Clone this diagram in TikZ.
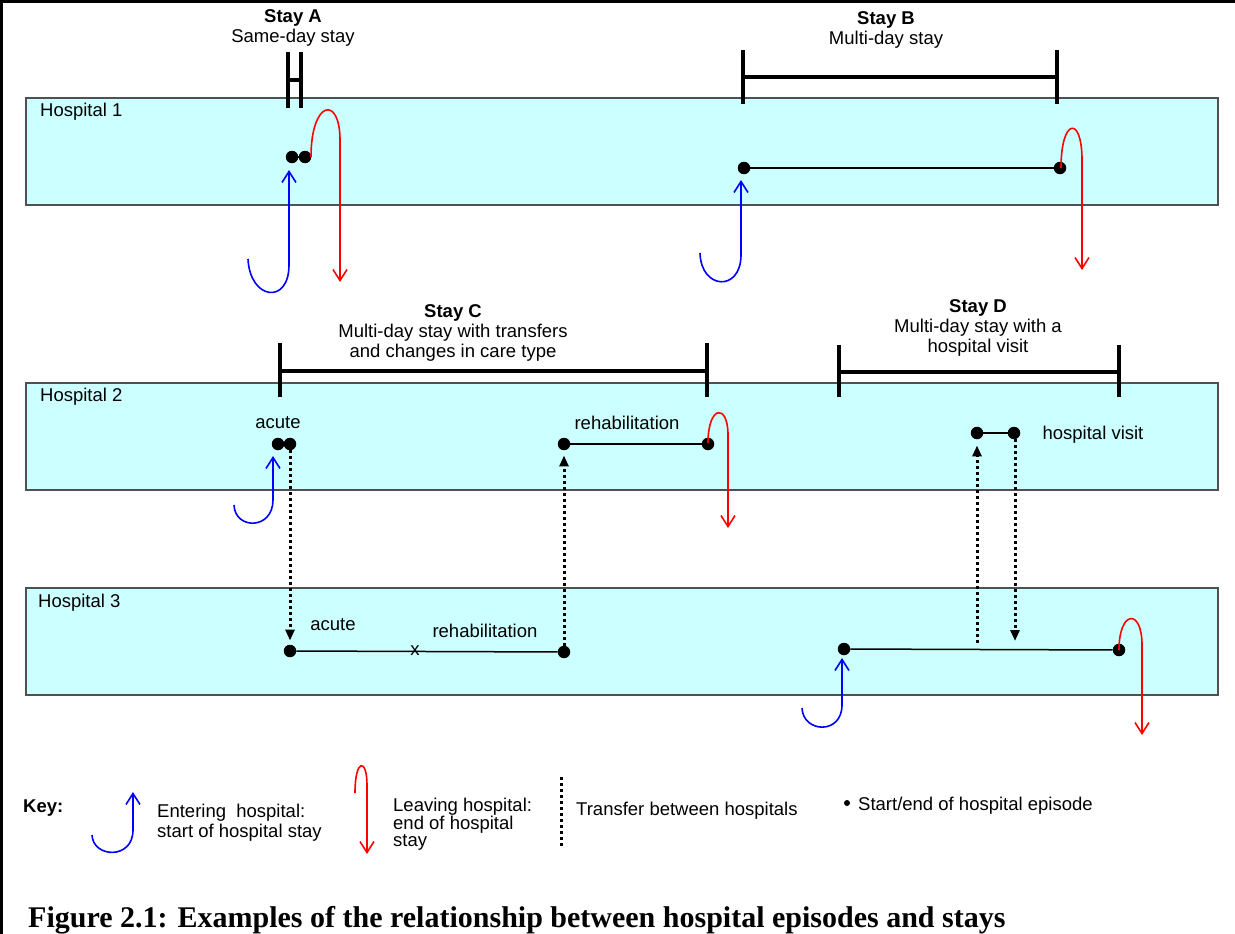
\documentclass[tikz,border=0pt]{standalone}
\usepackage{fontspec}
\setmainfont{Liberation Sans}
\newfontfamily\capfont{Liberation Serif}
\usetikzlibrary{arrows.meta}
\definecolor{hosp}{HTML}{CCFFFF}
\definecolor{hospedge}{HTML}{505050}
\begin{document}
\begin{tikzpicture}[x=1pt,y=-1pt,
  hospbox/.style={fill=hosp, draw=hospedge, line width=1.5pt},
  dot/.style={circle, fill=black, inner sep=0pt, minimum size=12.5pt},
  keydot/.style={circle, fill=black, inner sep=0pt, minimum size=6pt},
  epi/.style={line width=1.5pt},
  bracket/.style={line width=4pt},
  enter/.style={draw=blue, line width=1.6pt, -{Straight Barb[length=11pt,width=14pt,line width=1.6pt]}},
  leave/.style={draw=red, line width=1.6pt, -{Straight Barb[length=11pt,width=14pt,line width=1.6pt]}},
  transfer/.style={line width=3pt, dash pattern=on 3pt off 3pt, -{Triangle[length=11pt,width=9pt]}},
  keytransfer/.style={line width=3pt, dash pattern=on 3pt off 3pt},
  lbl/.style={inner sep=0pt, font=\fontsize{18.5}{20}\selectfont},
  title/.style={lbl, align=center},
  caption/.style={inner sep=0pt, font=\capfont\bfseries\fontsize{30}{34}\selectfont}
]
\useasboundingbox (0,0) rectangle (1235,934);
% border
\draw[line width=3pt] (0,1.5) -- (1235,1.5);
\draw[line width=3pt] (1.5,0) -- (1.5,934);

% hospitals
\draw[hospbox] (26,98) rectangle (1218,205);
\draw[hospbox] (26,383) rectangle (1218,490);
\draw[hospbox] (26,588) rectangle (1218,695);
\node[lbl, anchor=west] (h1) at (40,112) {Hospital 1};
\node[lbl, anchor=west] (h2) at (40,397) {Hospital 2};
\node[lbl, anchor=west] (h3) at (38,603) {Hospital 3};

% ---------- Stay A ----------
\node[title] (tA) at (293,28) {\textbf{Stay A}\\Same-day stay};
\draw[bracket] (288,52) -- (288,108);
\draw[bracket] (301,52) -- (301,108);
\draw[bracket] (288,80) -- (301,80);
\node[dot] (dA1) at (292,157) {};
\node[dot] (dA2) at (305,157) {};
\draw[epi] (dA1) -- (dA2);
\coordinate (eA0) at (248,259);
\coordinate (eA1) at (289,170);
\draw[enter] (eA0) .. controls (250,300) and (289,305) .. (289,265) -- (eA1);
\coordinate (lA0) at (311,157);
\coordinate (lA1) at (340,282);
\draw[leave] (lA0) .. controls (311,100) and (340,95) .. (340,140) -- (lA1);

% ---------- Stay B ----------
\node[title] (tB) at (886,30) {\textbf{Stay B}\\Multi-day stay};
\draw[bracket] (743,50) -- (743,104);
\draw[bracket] (1057,50) -- (1057,104);
\draw[bracket] (743,77) -- (1057,77);
\node[dot] (dB1) at (744,168) {};
\node[dot] (dB2) at (1060,168) {};
\draw[epi] (dB1) -- (dB2);
\coordinate (eB0) at (700,253);
\coordinate (eB1) at (741,180);
\draw[enter] (eB0) .. controls (701,290) and (741,292) .. (741,255) -- (eB1);
\coordinate (lB0) at (1061,168);
\coordinate (lB1) at (1082,270);
\draw[leave] (lB0) .. controls (1061,118) and (1082,115) .. (1082,160) -- (lB1);

% ---------- Stay C ----------
\node[title] (tC) at (453,333) {\textbf{Stay C}\\Multi-day stay with transfers\\and changes in care type};
\draw[bracket] (280,343) -- (280,397);
\draw[bracket] (707,343) -- (707,397);
\draw[bracket] (280,371) -- (707,371);
\node[lbl] (acuteA) at (278,423) {acute};
\node[lbl] (rehabA) at (627,423) {rehabilitation};
\node[dot] (dC1) at (278,444) {};
\node[dot] (dC2) at (290,444) {};
\node[dot] (dC3) at (290,651) {};
\node[dot] (dC4) at (564,652) {};
\node[dot] (dC5) at (564,444) {};
\node[dot] (dC6) at (708,444) {};
\draw[epi] (dC1) -- (dC2);
\draw[epi] (dC3) -- (dC4);
\draw[epi] (dC5) -- (dC6);
\node[lbl] (acuteB) at (333,625) {acute};
\node[lbl] (xmark) at (415,651) {x};
\node[lbl] (rehabB) at (485,631) {rehabilitation};
\draw[transfer, shorten >=4pt] (dC2) -- (dC3);
\draw[transfer, shorten >=5pt] (dC4) -- (dC5);
\coordinate (eC0) at (234,505);
\coordinate (eC1) at (273,456);
\draw[enter] (eC0) .. controls (235,530) and (273,530) .. (273,500) -- (eC1);
\coordinate (lC0) at (708,443);
\coordinate (lC1) at (728,528);
\draw[leave] (lC0) .. controls (708,405) and (728,403) .. (728,435) -- (lC1);

% ---------- Stay D ----------
\node[title] (tD) at (978,328) {\textbf{Stay D}\\Multi-day stay with a\\hospital visit};
\draw[bracket] (839,345) -- (839,397);
\draw[bracket] (1119,345) -- (1119,397);
\draw[bracket] (839,372) -- (1119,372);
\node[dot] (dD1) at (844,649) {};
\node[dot] (dD2) at (1119,650) {};
\draw[epi] (dD1) -- (dD2);
\node[dot] (dD3) at (977,433) {};
\node[dot] (dD4) at (1014,433) {};
\draw[epi] (dD3) -- (dD4);
\node[lbl] (visit) at (1093,435) {hospital visit};
\coordinate (cD1) at (977,643);
\coordinate (cD2) at (1015,641);
\draw[transfer, shorten >=6pt] (cD1) -- (dD3);
\draw[transfer] (dD4.south -| cD2) -- (cD2);
\coordinate (eD0) at (802,708);
\coordinate (eD1) at (842,658);
\draw[enter] (eD0) .. controls (803,733) and (842,735) .. (842,705) -- (eD1);
\coordinate (lD0) at (1119,650);
\coordinate (lD1) at (1142,735);
\draw[leave] (lD0) .. controls (1119,610) and (1142,608) .. (1142,645) -- (lD1);

% ---------- Key ----------
\node[lbl, anchor=west, font=\bfseries\fontsize{18.5}{20}\selectfont] (key) at (23,808) {Key:};
\coordinate (kE0) at (92,835);
\coordinate (kE1) at (133,792);
\draw[enter] (kE0) .. controls (93,858) and (133,860) .. (133,830) -- (kE1);
\node[lbl, anchor=west, align=left] (kEtxt) at (157,823) {Entering\ \ hospital:\\start of hospital stay};
\coordinate (kL0) at (355,793);
\coordinate (kL1) at (367,854);
\draw[leave] (kL0) .. controls (355,758) and (367,758) .. (367,785) -- (kL1);
\node[lbl, anchor=west, align=left, font=\fontsize{18.5}{14}\selectfont] (kLtxt) at (393,824) {Leaving hospital:\\end of hospital\\stay};
\coordinate (kT0) at (561,777);
\coordinate (kT1) at (561,848);
\draw[keytransfer] (kT0) -- (kT1);
\node[lbl, anchor=west] (kTtxt) at (576,811) {Transfer between hospitals};
\node[keydot] (kD) at (847,803) {};
\node[lbl, anchor=west] (kDtxt) at (858,806) {Start/end of hospital episode};

% caption
\node[caption, anchor=base west] (cap) at (28,927) {Figure 2.1: Examples of the relationship between hospital episodes and stays};
\end{tikzpicture}
\end{document}
